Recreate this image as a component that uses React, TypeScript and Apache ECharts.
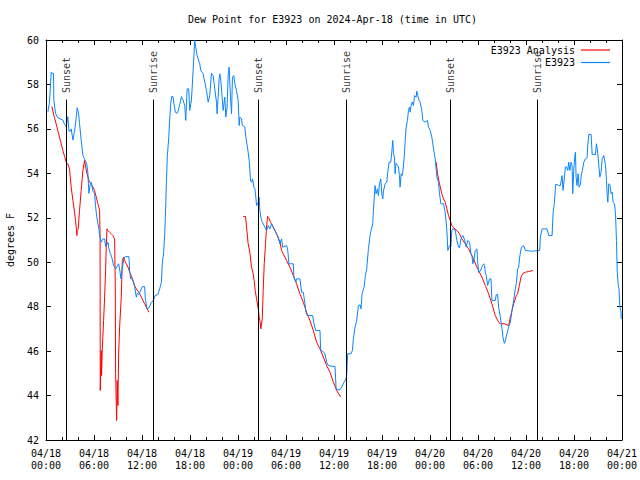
import React, { useEffect, useRef } from "react";
import * as echarts from "echarts";

// hours since 2024-04-18 00:00 UTC, dew point in degrees F
const e3923: [number, number][] = [
  [0.23,56.75],[0.44,57.2],[0.65,58.55],[0.77,58.5],[0.94,58.5],[0.98,57.3],[1.19,56.7],[1.48,56.5],[2.1,56.4],[2.32,56.2],[2.53,56.1],[2.73,56.55],[2.86,55.9],[3.07,55.9],[3.15,56.0],[3.36,55.5],[3.57,55.9],[3.78,56.5],[3.9,56.95],[4.07,56.7],[4.19,56.25],[4.4,55.5],[4.61,54.8],[4.82,54.65],[5.11,54.4],[5.24,54.0],[5.36,53.1],[5.53,53.5],[5.66,53.6],[5.86,53.2],[6.07,53.1],[6.2,52.5],[6.36,52.0],[6.62,51.5],
  [6.7,51.2],[6.91,50.9],[7.12,51.05],[7.33,51.05],[7.45,50.7],[7.62,50.8],[7.74,50.9],[7.87,50.6],[8.04,50.4],[8.24,50.2],[8.45,49.85],[8.7,49.7],[8.87,49.8],[9.08,49.93],[9.2,49.7],[9.37,49.25],[9.54,49.75],[9.75,50.2],[9.95,50.25],[10.37,50.25],[10.46,49.6],[10.58,49.25],[10.79,49.25],[11.08,48.9],[11.29,48.43],[11.42,48.6],[11.62,48.55],[11.92,48.8],[12.04,48.9],[12.33,48.9],[12.42,48.35],[12.63,47.9],[12.88,47.95],[13.17,48.2],[13.38,48.25],[13.63,48.5],[14.0,48.55],[14.21,48.8],[14.42,49.1],[14.55,50.0],[14.71,50.45],[14.84,51.3],[14.92,52.0],
  [15.05,53.6],[15.17,54.8],[15.34,55.6],[15.46,56.4],[15.59,57.13],[15.72,57.46],[15.88,57.45],[16.01,57.1],[16.17,56.75],[16.38,56.7],[16.55,56.85],[16.72,57.1],[16.93,57.45],[17.13,57.3],[17.34,57.05],[17.47,56.38],[17.64,57.8],[17.84,57.8],[17.97,56.83],[18.18,57.3],[18.39,58.63],[18.59,59.98],[18.72,59.68],[18.89,59.3],[19.06,59.1],[19.22,58.93],[19.35,58.63],[19.64,58.48],[19.85,58.1],[20.06,57.73],[20.27,57.2],[20.47,57.5],[20.68,58.5],[20.89,58.4],[21.1,57.8],[21.31,57.2],[21.39,56.68],[21.52,57.45],[21.64,58.25],
  [21.73,58.48],[21.85,58.18],[22.02,57.43],[22.14,56.83],[22.35,57.43],[22.48,56.53],[22.64,56.98],[22.77,58.4],[22.89,58.78],[23.06,57.43],[23.19,56.68],[23.31,58.33],[23.48,58.4],[23.6,58.03],[23.81,57.73],[24.02,57.28],[24.15,56.15],[24.23,56.53],[24.44,56.45],[24.56,56.15],[24.86,56.08],[24.98,55.63],[25.15,55.25],[25.27,54.95],[25.4,54.58],[25.57,53.68],[25.69,53.6],[25.82,53.75],[25.98,53.38],[26.11,53.3],
  [26.23,52.93],[26.32,52.55],[26.53,52.7],[26.65,52.93],[26.73,52.33],[26.94,51.88],[27.15,51.73],[27.36,51.58],[27.57,51.43],[27.78,51.65],[27.99,51.5],[28.2,51.73],[28.4,51.58],[28.61,51.43],[29.03,51.13],[29.24,50.83],[29.45,51.05],[29.57,50.68],[30.07,50.75],[30.2,50.6],[30.37,49.93],[30.91,49.93],[30.99,49.33],[31.24,49.1],[31.32,49.25],[31.74,49.25],[31.95,48.65],[32.16,48.65],[32.37,48.13],[32.49,47.75],[32.66,47.6],[33.33,47.6],[33.5,47.23],[33.71,46.93],[34.25,46.93],[34.33,46.03],[34.58,46.0],[34.87,45.88],[35.08,45.5],[35.29,45.35],[36.13,45.3],[36.25,44.38],[36.33,44.26],[36.75,44.26],[36.96,44.38],[37.25,44.6],[37.5,44.75],[37.59,44.95],[37.71,45.88],[38.13,45.88],[38.3,46.03],[38.42,46.55],[38.63,47.08],[38.84,47.38],[39.05,48.05],[39.26,48.08],[39.38,47.9],[39.51,48.58],[39.76,48.88],[39.92,49.4],[40.09,49.7],[40.3,50.6],[40.51,51.2],[40.63,51.43],[40.84,51.73],
  [40.93,52.33],[41.13,53.45],[41.26,53.08],[41.43,53.3],[41.55,53.0],[41.68,53.53],[41.85,53.75],[41.97,53.08],[42.1,52.85],[42.18,53.2],[42.39,53.53],[42.6,53.6],[42.72,54.05],[42.89,54.5],[43.1,54.5],[43.22,54.95],[43.35,55.48],[43.43,54.9],[43.56,54.73],[43.64,53.98],[43.76,54.45],[43.93,54.35],[44.05,54.3],[44.18,53.9],[44.26,53.38],[44.39,53.98],[44.5,53.9],[44.6,54.05],[44.77,54.7],[44.89,55.4],[45.02,56.08],[45.18,56.38],[45.31,56.83],[45.43,56.98],[45.52,56.75],[45.64,57.05],[45.77,57.2],[45.93,57.05],[46.06,57.5],[46.27,57.43],[46.35,57.7],[46.48,57.5],[46.64,57.28],[46.77,57.2],[46.98,56.83],[47.1,56.38],[47.4,56.3],[47.69,56.38],[47.81,56.08],[48.02,55.93],[48.23,55.63],[48.44,55.1],[48.65,54.65],[48.86,53.83],[49.06,53.6],[49.19,53.08],[49.36,52.63],[49.69,52.63],[49.9,52.25],
  [50.11,51.43],[50.23,50.53],[50.44,50.75],[50.61,50.7],[50.73,51.43],[50.86,51.5],[51.15,51.45],[51.36,50.98],[51.57,50.68],[51.69,50.65],[51.86,51.05],[52.11,51.2],[52.28,51.05],[52.4,50.9],[52.53,50.68],[52.7,50.98],[52.95,50.9],[53.11,50.38],[53.24,50.3],[53.36,49.93],[53.53,50.2],[53.66,50.53],[53.87,50.6],[53.95,50.08],[54.07,49.55],[54.28,49.6],[54.49,49.78],[54.7,49.93],[54.82,49.85],[54.91,49.55],[55.03,49.4],[55.2,48.95],[55.45,49.25],[55.62,49.25],[55.74,48.28],[56.16,48.28],[56.29,48.55],[56.45,48.55],[56.58,47.98],[56.79,47.53],[57.0,47.0],[57.12,46.63],[57.29,46.35],[57.41,46.45],[57.62,46.78],[57.83,47.08],[58.04,47.3],[58.25,47.83],[58.46,48.28],[58.66,48.8],[58.79,49.03],[58.96,49.7],[59.08,49.75],[59.21,50.23],[59.38,50.6],[59.5,50.7],[59.71,50.75],[59.92,50.53],[60.54,50.5],[60.96,50.5],[61.38,50.52],[61.71,50.53],[61.8,51.13],[62.0,51.5],[62.63,51.5],[62.84,51.2],[63.26,51.2],[63.38,52.18],[63.55,52.7],[63.71,53.5],[63.88,53.5],[64.09,53.45],[64.3,53.45],
  [64.51,53.9],[64.63,53.23],[64.8,53.83],[64.93,54.28],[65.05,54.3],[65.22,54.13],[65.34,54.5],[65.47,54.13],[65.64,54.5],[65.76,54.35],[65.84,53.08],[65.97,54.13],[66.09,54.73],[66.18,54.95],[66.26,53.83],[66.38,53.45],[66.51,53.98],[66.64,53.38],[66.8,53.5],[66.93,53.98],[67.05,54.13],[67.22,54.5],[67.43,54.65],[67.64,54.7],[67.72,55.25],[67.85,55.75],[68.14,55.75],[68.27,54.85],[68.68,54.85],[68.81,55.33],[68.98,54.88],[69.1,54.35],[69.23,53.83],[69.39,54.05],[69.52,54.65],[69.73,54.8],[69.94,54.35],[70.06,53.68],[70.14,53.08],[70.23,52.7],[70.35,53.53],[70.48,53.5],[70.65,53.08],[70.77,53.15],[70.9,52.7],[71.06,52.63],[71.19,52.18],[71.31,50.98],[71.4,49.6],[71.52,49.03],[71.64,48.73],[71.73,47.98],[71.86,47.83],[71.9,47.45],
];

const analysisDay1: [number, number][] = [
  [0.73,57.0],[1.06,56.5],[1.27,56.23],[1.48,55.93],[1.69,55.63],[1.9,55.33],[2.11,55.03],[2.32,54.76],[2.53,54.5],[2.73,54.43],[2.94,54.2],[3.03,53.83],[3.15,53.38],[3.36,52.78],[3.57,52.25],[3.69,51.88],[3.78,51.58],[3.86,51.2],[3.9,51.43],[4.03,51.5],[4.19,52.33],[4.4,53.23],[4.61,54.13],[4.82,54.58],[5.03,54.13],[5.24,53.83],[5.45,53.6],[5.78,53.45],[6.07,53.23],[6.28,52.93],[6.49,52.63],[6.7,52.33],[6.76,51.13],[6.78,44.23],[6.91,46.03],[6.95,44.9],[7.03,46.03],[7.2,47.38],[7.33,48.43],[7.45,49.63],[7.53,50.68],[7.62,51.5],[7.74,51.43],[7.95,51.35],[8.16,51.28],[8.37,51.2],[8.58,51.05],[8.66,49.03],[8.7,45.0],[8.83,42.88],[8.91,44.68],[8.99,43.55],[9.08,45.88],[9.2,47.08],[9.41,48.43],[9.54,50.08],[9.7,50.23],[9.83,50.08],[10.04,49.93],[10.25,49.78],[10.46,49.55],[10.66,49.4],[10.87,49.18],[11.08,48.95],[11.29,48.8],[11.5,48.7],[11.71,48.58],[11.92,48.43],[12.12,48.28],[12.33,48.13],[12.54,47.98],[12.75,47.83],[12.88,47.75],
];
const analysisDay2: [number, number][] = [
  [24.65,52.06],[24.94,52.06],[25.07,51.58],[25.27,50.83],[25.48,50.45],[25.69,49.78],[25.9,49.48],[26.02,49.18],[26.15,48.73],[26.32,48.35],[26.53,47.9],[26.65,47.53],[26.75,47.35],[26.86,47.0],[27.03,47.45],[27.15,48.73],[27.28,49.93],[27.44,50.83],[27.57,51.58],[27.69,52.06],[27.9,51.95],[28.07,51.8],[28.4,51.58],[28.82,51.28],[29.24,50.9],[29.45,50.53],[29.66,50.38],[30.07,50.08],[30.49,49.78],[30.91,49.4],[31.32,49.03],[31.74,48.58],[32.16,48.2],[32.57,47.75],[32.99,47.38],[33.41,46.93],[33.83,46.4],[34.25,46.1],[34.67,45.73],[35.08,45.35],[35.5,45.05],[35.92,44.6],[36.33,44.23],[36.84,43.93],
];
const analysisDay3: [number, number][] = [
  [48.77,54.5],[48.94,53.98],[49.19,53.53],[49.48,53.08],[49.69,52.85],[49.9,52.7],[50.11,52.4],[50.32,52.1],[50.53,51.88],[50.73,51.65],[50.94,51.55],[51.36,51.43],[51.69,51.28],[51.99,51.05],[52.4,50.83],[52.82,50.6],[53.11,50.38],[53.45,50.15],[53.78,49.85],[54.07,49.63],[54.49,49.33],[54.91,48.95],[55.33,48.58],[55.74,48.13],[56.16,47.6],[56.58,47.3],[56.79,47.23],[57.29,47.23],[57.83,47.15],[58.04,47.53],[58.25,47.83],[58.46,48.13],[58.79,48.5],[58.96,48.6],[59.21,49.03],[59.38,49.33],[59.62,49.5],[59.92,49.55],[60.33,49.58],[60.88,49.63],
];

// sun events (hours since start) and their labels
const sunHours = [2.54, 13.44, 26.55, 37.53, 50.59, 61.4];
const sunLabels = ["Sunset", "Sunrise", "Sunset", "Sunrise", "Sunset", "Sunrise"];
const sunLineTop = 57.32;

const yTicks = { min: 42, max: 60, step: 2 };
const xTicks = { min: 0, max: 72, step: 6 };
const dayLabels = ["04/18", "04/19", "04/20", "04/21"];

const FONT = "DejaVu Sans Mono";

export default function App() {
  const ref = useRef<HTMLDivElement>(null);
  useEffect(() => {
    if (!ref.current) return;
    const chart = echarts.init(ref.current, undefined, { renderer: "svg" });
    const gap = (h: number): any[] => [[h, "-"]];
    const analysis = [
      ...analysisDay1,
      ...gap(18),
      ...analysisDay2,
      ...gap(42),
      ...analysisDay3,
    ];
    const fmtX = (v: number) => {
      const d = Math.floor(v / 24);
      const hh = v - d * 24;
      return `${dayLabels[d]}\n${String(hh).padStart(2, "0")}:00`;
    };
    const axisLine = { show: true, onZero: false, lineStyle: { color: "#000", width: 1 } };
    const tick = { show: true, inside: true, length: 5, lineStyle: { color: "#000" } };
    const minor = { show: true, splitNumber: 3, length: 3, lineStyle: { color: "#000" } };
    chart.setOption({
      animation: false,
      textStyle: { fontFamily: FONT, fontSize: 10, color: "#000" },
      title: {
        text: "Dew Point for E3923 on 2024-Apr-18 (time in UTC)",
        left: 188,
        top: 13,
        padding: 0,
        textStyle: { fontFamily: FONT, fontSize: 10, fontWeight: "normal", color: "#000", lineHeight: 12 },
      },
      legend: {
        data: [
          { name: "E3923 Analysis", icon: "rect" },
          { name: "E3923", icon: "rect" },
        ],
        orient: "vertical",
        right: 30,
        top: 44,
        padding: 0,
        align: "right",
        itemWidth: 29,
        itemHeight: 1.2,
        itemGap: 0.5,
        textStyle: { fontFamily: FONT, fontSize: 10, color: "#000", lineHeight: 12, padding: [0, 1, 0, 0] },
      },
      grid: { left: 46, right: 18, top: 40, bottom: 40, outerBoundsMode: "none", containLabel: false },
      xAxis: [
        {
          type: "value",
          min: xTicks.min,
          max: xTicks.max,
          interval: xTicks.step,
          axisLine,
          axisTick: tick,
          minorTick: minor,
          splitLine: { show: false },
          axisLabel: {
            formatter: fmtX,
            margin: 7,
            lineHeight: 12.5,
            fontFamily: FONT,
            fontSize: 10,
            color: "#000",
          },
        },
        {
          type: "value",
          position: "top",
          min: xTicks.min,
          max: xTicks.max,
          interval: xTicks.step,
          axisLine,
          axisTick: tick,
          minorTick: minor,
          splitLine: { show: false },
          axisLabel: { show: false },
        },
      ],
      yAxis: [
        {
          type: "value",
          min: yTicks.min,
          max: yTicks.max,
          interval: yTicks.step,
          name: "degrees F",
          nameLocation: "middle",
          nameGap: 31,
          nameTextStyle: { fontFamily: FONT, fontSize: 10, color: "#000" },
          axisLine,
          axisTick: tick,
          splitLine: { show: false },
          axisLabel: { margin: 7, fontFamily: FONT, fontSize: 10, color: "#000" },
        },
        {
          type: "value",
          position: "right",
          min: yTicks.min,
          max: yTicks.max,
          interval: yTicks.step,
          axisLine,
          axisTick: tick,
          splitLine: { show: false },
          axisLabel: { show: false },
        },
      ],
      series: [
        {
          name: "sun",
          type: "scatter",
          data: sunHours.map((h, i) => ({ value: [h, sunLineTop], name: sunLabels[i] })),
          symbolSize: 1,
          itemStyle: { color: "rgba(0,0,0,0)" },
          silent: true,
          label: {
            show: true,
            formatter: (p: any) => p.name,
            position: "top",
            distance: 6,
            rotate: 90,
            align: "left",
            verticalAlign: "middle",
            fontFamily: FONT,
            fontSize: 10,
            color: "#000",
          },
          markLine: {
            silent: true,
            symbol: "none",
            label: { show: false },
            lineStyle: { color: "#000", width: 1, type: "solid" },
            data: sunHours.map((h) => [{ coord: [h, yTicks.min] }, { coord: [h, sunLineTop] }]),
          },
          z: 1,
        },
        {
          name: "E3923 Analysis",
          type: "line",
          data: analysis,
          symbol: "none",
          connectNulls: false,
          lineStyle: { color: "#ff0000", width: 1 },
          itemStyle: { color: "#ff0000" },
          z: 2,
        },
        {
          name: "E3923",
          type: "line",
          data: e3923,
          symbol: "none",
          lineStyle: { color: "#0a84ff", width: 1 },
          itemStyle: { color: "#0a84ff" },
          z: 3,
        },
      ],
    });
    return () => chart.dispose();
  }, []);
  return <div ref={ref} style={{ width: 640, height: 480, position: "absolute", left: 0, top: 0 }} />;
}
